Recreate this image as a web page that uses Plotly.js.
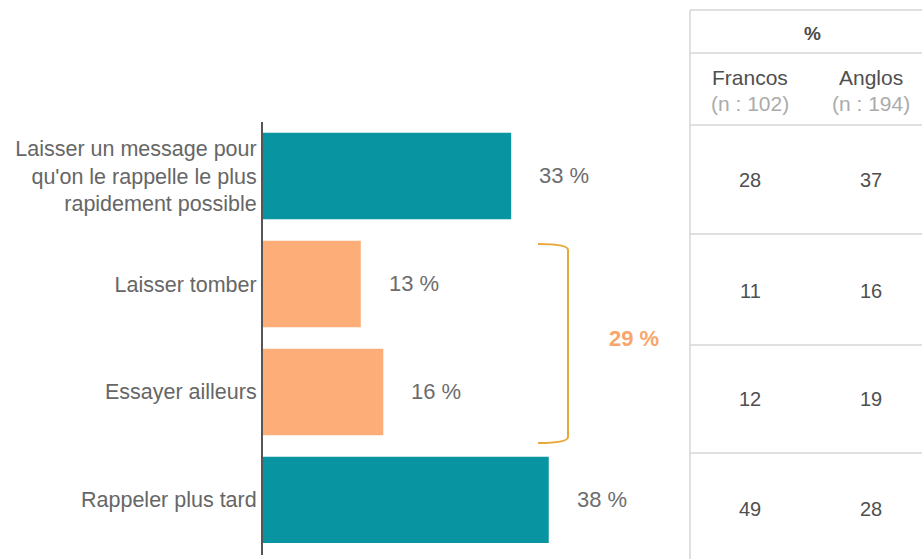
<!DOCTYPE html>
<html>
<head>
<meta charset="utf-8">
<script src="https://cdn.plot.ly/plotly-3.0.1.min.js"></script>
<style>html,body{margin:0;padding:0;background:#fff;}#chart{width:922px;height:559px;}</style>
</head>
<body>
<div id="chart"></div>
<script>
// ---- data ----
const categories = [
  "Laisser un message pour<br>qu'on le rappelle le plus<br>rapidement possible",
  "Laisser tomber",
  "Essayer ailleurs",
  "Rappeler plus tard"
];
const values = [33, 13, 16, 38];
const groups = ["main", "grouped", "grouped", "main"];
const tableHeader = "%";
const tableColumns = ["Francos", "Anglos"];
const tableN = [102, 194];
const francos = [28, 11, 12, 49];
const anglos = [37, 16, 19, 28];

// ---- styling / geometry ----
const W = 922, H = 559;
const M = {l: 263, r: 0, t: 122, b: 4};
const PW = W - M.l - M.r, PH = H - M.t - M.b;
const xp = px => (px - M.l) / PW;
const yp = py => (H - M.b - py) / PH;
const groupColor = {main: "#0894a1", grouped: "#fdae78"};
const FONT = "Liberation Sans, Arial, sans-serif";
const bracketColor = "#e8a838";
const gridColor = "#d6d6d6";

const groupedTotal = values.filter((v, i) => groups[i] === "grouped").reduce((a, b) => a + b, 0);

const trace = {
  type: "bar",
  orientation: "h",
  y: categories,
  x: values,
  width: 0.8,
  marker: {color: groups.map(g => groupColor[g])},
  hoverinfo: "skip"
};

const centered = {xref: "paper", yref: "paper", showarrow: false, xanchor: "center", yanchor: "middle"};
const annotations = [];
values.forEach((v, i) => {
  annotations.push({
    x: v, y: categories[i], xref: "x", yref: "y",
    text: v + " %", showarrow: false, xanchor: "left", yanchor: "middle", xshift: 26,
    font: {family: FONT, size: 22, color: "#6d6d6d"}
  });
});
annotations.push(Object.assign({}, centered, {
  x: xp(634), y: yp(338),
  text: "<b>" + groupedTotal + " %</b>",
  font: {family: FONT, size: 22, color: "#f9a66c"}
}));

// table
const colX = [750, 871];
const rowY = [180, 291, 399, 509];
annotations.push(Object.assign({}, centered, {
  x: xp(812), y: yp(34),
  text: "<b>" + tableHeader + "</b>",
  font: {family: FONT, size: 19, color: "#4a4a4a"}
}));
tableColumns.forEach((c, j) => {
  annotations.push(Object.assign({}, centered, {
    x: xp(colX[j]), y: yp(77),
    text: c, font: {family: FONT, size: 21, color: "#4f4f4f"}
  }));
  annotations.push(Object.assign({}, centered, {
    x: xp(colX[j]), y: yp(103),
    text: "(n : " + tableN[j] + ")", font: {family: FONT, size: 21, color: "#ababab"}
  }));
});
[francos, anglos].forEach((col, j) => {
  col.forEach((v, i) => {
    annotations.push(Object.assign({}, centered, {
      x: xp(colX[j]), y: yp(rowY[i]),
      text: String(v), font: {family: FONT, size: 20, color: "#4f4f4f"}
    }));
  });
});

const shapes = [];
// table lines
shapes.push({type: "line", xref: "paper", yref: "paper", x0: xp(690), x1: xp(690), y0: yp(10), y1: yp(559),
  line: {color: gridColor, width: 1.5}});
[10, 53, 125, 234, 345, 453].forEach(py => {
  shapes.push({type: "line", xref: "paper", yref: "paper", x0: xp(690), x1: xp(922), y0: yp(py), y1: yp(py),
    line: {color: gridColor, width: 1.5}});
});
// bracket
const bx0 = xp(538), bx1 = xp(568), by0 = yp(244), by1 = yp(443), byc0 = yp(250), byc1 = yp(437);
shapes.push({
  type: "path", xref: "paper", yref: "paper",
  path: `M ${bx0} ${by0} Q ${bx1} ${by0} ${bx1} ${byc0} L ${bx1} ${byc1} Q ${bx1} ${by1} ${bx0} ${by1}`,
  line: {color: bracketColor, width: 2}
});

const layout = {
  width: W, height: H,
  margin: M,
  paper_bgcolor: "#ffffff", plot_bgcolor: "#ffffff",
  showlegend: false,
  xaxis: {range: [0, PW / 7.52], visible: false, fixedrange: true},
  yaxis: {
    type: "category", categoryorder: "array", categoryarray: categories,
    range: [3.51, -0.5], showline: true, linecolor: "#555555", linewidth: 2,
    showgrid: false, zeroline: false, ticks: "", ticklabelstandoff: 0,
    tickfont: {family: FONT, size: 21.5, color: "#666666"}, automargin: false, fixedrange: true
  },
  annotations: annotations,
  shapes: shapes
};

Plotly.newPlot("chart", [trace], layout, {displayModeBar: false, staticPlot: true});
</script>
</body>
</html>
